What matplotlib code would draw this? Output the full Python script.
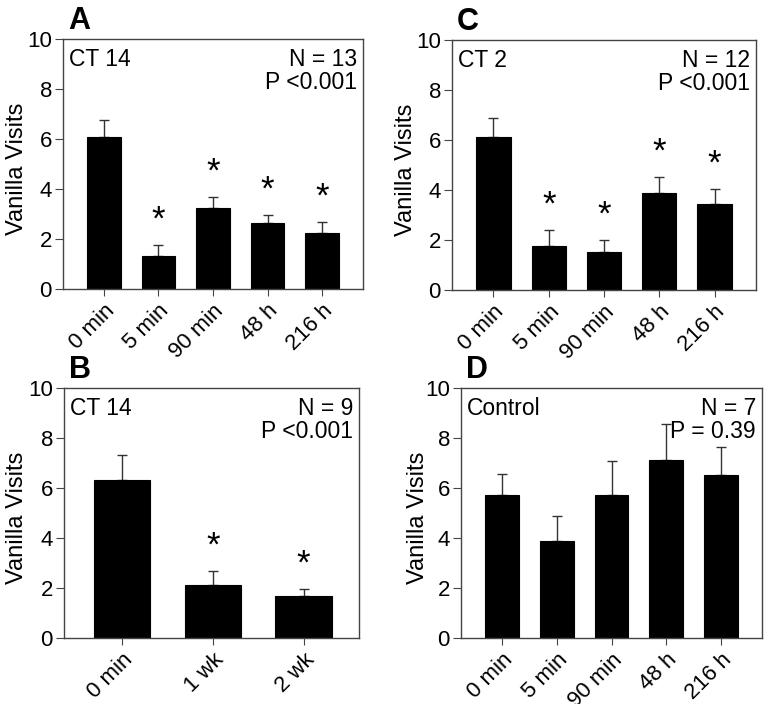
# Four bar panels: vanilla visits after conditioning

import numpy as np
from matplotlib import pyplot as plt

plt.rcParams['font.family'] = ['Liberation Sans', 'DejaVu Sans']

cats5 = ['0 min', '5 min', '90 min', '48 h', '216 h']
cats3 = ['0 min', '1 wk', '2 wk']

meanA = [6.09, 1.32, 3.23, 2.63, 2.25]
errA = [0.67, 0.44, 0.44, 0.33, 0.42]
starA = [False, True, True, True, True]

meanB = [6.33, 2.11, 1.67]
errB = [1.0, 0.57, 0.28]
starB = [False, True, True]

meanC = [6.11, 1.76, 1.51, 3.87, 3.44]
errC = [0.76, 0.64, 0.48, 0.64, 0.6]
starC = [False, True, True, True, True]

meanD = [5.71, 3.87, 5.71, 7.13, 6.51]
errD = [0.85, 1.01, 1.38, 1.42, 1.13]
starD = [False, False, False, False, False]

W, H = 768, 704
fig = plt.figure(figsize=(W / 100, H / 100), dpi=100)

panels = [
    # letter, cats, mean, err, stars, group, N, P, box (left, top, right, bottom px), xlim, ylabel x px
    ('A', cats5, meanA, errA, starA, 'CT 14', 'N = 13', 'P <0.001', (63, 39, 363, 289), (-0.75, 4.75), 6),
    ('C', cats5, meanC, errC, starC, 'CT 2', 'N = 12', 'P <0.001', (452, 40, 756, 290), (-0.75, 4.75), 395),
    ('B', cats3, meanB, errB, starB, 'CT 14', 'N = 9', 'P <0.001', (64, 388, 359, 638), (-0.64, 2.61), 6),
    ('D', cats5, meanD, errD, starD, 'Control', 'N = 7', 'P = 0.39', (461, 388, 762, 638), (-0.75, 4.75), 407),
]

spine_col = '#444444'
fs = 16.5

for letter, cats, mean, err, stars, group, ntxt, ptxt, box, xl, labx in panels:
    l, t, r, b = box
    ax = fig.add_axes([l / W, 1 - b / H, (r - l) / W, (b - t) / H])
    x = np.arange(len(cats))
    width = 0.62
    ax.bar(x, mean, width, color='black', edgecolor='black', linewidth=0.8, zorder=2)
    ax.errorbar(x, mean, yerr=[np.zeros(len(err)), err], fmt='none',
                ecolor='#333333', elinewidth=1.0, capsize=3.5, capthick=1.0, zorder=1)
    for xi, m, e, s in zip(x, mean, err, stars):
        if s:
            ax.text(xi, m + e + 0.35, '*', ha='center', va='bottom', fontsize=25)
    ax.set_xlim(*xl)
    ax.set_ylim(0, 10)
    ax.set_yticks([0, 2, 4, 6, 8, 10])
    ax.set_xticks(x)
    ax.set_xticklabels(cats, rotation=45, ha='right', rotation_mode='anchor')
    ax.tick_params(axis='both', labelsize=16, direction='out', color=spine_col)
    ax.tick_params(axis='y', length=6, pad=2)
    ax.tick_params(axis='x', length=5, pad=3)
    for sp in ax.spines.values():
        sp.set_color(spine_col)
        sp.set_linewidth(1.0)
    ax.set_ylabel('Vanilla Visits', fontsize=17)
    ax.yaxis.set_label_coords((labx - l) / (r - l), 0.48)
    ax.yaxis.label.set_verticalalignment('top')
    ax.text(0.02, 0.965, group, transform=ax.transAxes, ha='left', va='top', fontsize=fs)
    ax.text(0.98, 0.965, ntxt + '\n' + ptxt, transform=ax.transAxes, ha='right', va='top',
            fontsize=fs, linespacing=1.0)
    ax.text((l + 5) / W, 1 - (t - 3) / H, letter, transform=fig.transFigure,
            ha='left', va='bottom', fontsize=22, fontweight='bold')

fig.savefig('out.png', dpi=100)
